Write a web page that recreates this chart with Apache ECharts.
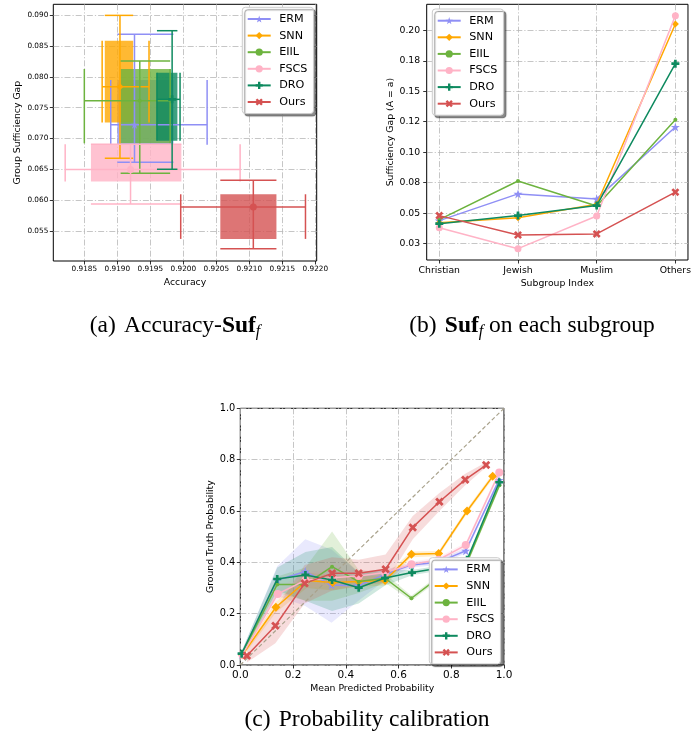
<!DOCTYPE html>
<html><head><meta charset="utf-8">
<script src="https://cdn.jsdelivr.net/npm/echarts@6/dist/echarts.min.js"></script>
<style>html,body{margin:0;padding:0;background:#fff}#c{width:694px;height:746px}</style>
</head><body><div id="c"></div>
<script>
// ---------- shared ----------
const methods = ['ERM', 'SNN', 'EIIL', 'FSCS', 'DRO', 'Ours'];
const colors = ['#8f8ff5', '#ffa800', '#6db33f', '#ffb3c6', '#0e8a5f', '#d55252'];

// ---------- (a) Accuracy vs group sufficiency gap ----------
const accMean  = [0.91926, 0.91904, 0.91934, 0.91920, 0.91983, 0.92106];
const gapMean  = [0.07225, 0.07842, 0.07615, 0.06495, 0.07636, 0.05889];
const boxAccLo = [0.91900, 0.91881, 0.91905, 0.91860, 0.91960, 0.92056];
const boxAccHi = [0.91985, 0.91924, 0.91980, 0.91997, 0.91991, 0.92141];
const boxGapLo = [0.06900, 0.07258, 0.06922, 0.06300, 0.06965, 0.05369];
const boxGapHi = [0.07950, 0.08589, 0.08129, 0.06906, 0.08069, 0.06094];
const errAccLo = [0.91890, 0.91877, 0.91850, 0.91821, 0.91960, 0.91996];
const errAccHi = [0.92036, 0.91948, 0.91980, 0.92086, 0.91995, 0.92185];
const errGapLo = [0.06614, 0.06679, 0.06435, 0.05937, 0.06500, 0.05207];
const errGapHi = [0.08692, 0.09000, 0.08259, 0.06906, 0.08751, 0.06321];
const accTicks = [0.9185, 0.9190, 0.9195, 0.9200, 0.9205, 0.9210, 0.9215, 0.9220];
const gapTicks = [0.055, 0.060, 0.065, 0.070, 0.075, 0.080, 0.085, 0.090];

// ---------- (b) Suf on each subgroup ----------
const subgroups = ['Christian', 'Jewish', 'Muslim', 'Others'];
const sufERM  = [0.0439, 0.0658, 0.0617, 0.1207];
const sufSNN  = [0.0422, 0.0463, 0.0573, 0.2052];
const sufEIIL = [0.0447, 0.0764, 0.0559, 0.1267];
const sufFSCS = [0.0381, 0.0209, 0.0477, 0.2120];
const sufDRO  = [0.0414, 0.0480, 0.0562, 0.1726];
const sufOurs = [0.0480, 0.0321, 0.0330, 0.0672];
const sufTickValues = [0.025, 0.05, 0.075, 0.10, 0.125, 0.15, 0.175, 0.20];
const sufTickLabels = ['0.03', '0.05', '0.08', '0.10', '0.12', '0.15', '0.18', '0.20'];

// ---------- (c) Probability calibration ----------
const calX_ERM  = [0.005, 0.140, 0.2465, 0.346, 0.448, 0.549, 0.649, 0.750, 0.855, 0.981];
const calY_ERM  = [0.042, 0.330, 0.364, 0.312, 0.309, 0.353, 0.390, 0.400, 0.445, 0.720];
const calLo_ERM = [0.032, 0.270, 0.230, 0.165, 0.250, 0.330, 0.380, 0.390, 0.435, 0.710];
const calHi_ERM = [0.052, 0.385, 0.490, 0.450, 0.360, 0.370, 0.400, 0.410, 0.455, 0.730];

const calX_SNN  = [0.008, 0.135, 0.252, 0.350, 0.449, 0.549, 0.649, 0.752, 0.860, 0.957];
const calY_SNN  = [0.040, 0.225, 0.329, 0.321, 0.325, 0.329, 0.431, 0.434, 0.600, 0.735];
const calLo_SNN = [0.030, 0.205, 0.300, 0.290, 0.305, 0.310, 0.420, 0.424, 0.590, 0.725];
const calHi_SNN = [0.050, 0.245, 0.360, 0.350, 0.345, 0.350, 0.442, 0.444, 0.610, 0.745];

const calX_EIIL  = [0.005, 0.140, 0.247, 0.348, 0.449, 0.549, 0.649, 0.752, 0.860, 0.983];
const calY_EIIL  = [0.040, 0.314, 0.314, 0.383, 0.325, 0.338, 0.260, 0.340, 0.400, 0.700];
const calLo_EIIL = [0.030, 0.280, 0.250, 0.250, 0.280, 0.320, 0.250, 0.330, 0.390, 0.690];
const calHi_EIIL = [0.050, 0.345, 0.380, 0.520, 0.370, 0.355, 0.270, 0.350, 0.410, 0.710];

const calX_FSCS  = [0.008, 0.142, 0.247, 0.350, 0.449, 0.549, 0.649, 0.752, 0.855, 0.982];
const calY_FSCS  = [0.040, 0.277, 0.330, 0.340, 0.347, 0.360, 0.392, 0.410, 0.467, 0.750];
const calLo_FSCS = [0.030, 0.255, 0.300, 0.310, 0.325, 0.350, 0.382, 0.400, 0.457, 0.740];
const calHi_FSCS = [0.050, 0.300, 0.360, 0.370, 0.370, 0.370, 0.402, 0.420, 0.477, 0.760];

const calX_DRO  = [0.005, 0.140, 0.247, 0.348, 0.449, 0.549, 0.651, 0.752, 0.860, 0.982];
const calY_DRO  = [0.044, 0.335, 0.351, 0.331, 0.301, 0.339, 0.360, 0.377, 0.410, 0.712];
const calLo_DRO = [0.034, 0.290, 0.250, 0.210, 0.240, 0.310, 0.350, 0.367, 0.400, 0.702];
const calHi_DRO = [0.054, 0.380, 0.440, 0.460, 0.360, 0.370, 0.370, 0.387, 0.420, 0.722];

const calX_Ours  = [0.025, 0.133, 0.244, 0.348, 0.449, 0.551, 0.654, 0.755, 0.853, 0.932];
const calY_Ours  = [0.036, 0.153, 0.318, 0.357, 0.357, 0.373, 0.536, 0.636, 0.722, 0.779];
const calLo_Ours = [0.010, 0.085, 0.240, 0.290, 0.310, 0.320, 0.490, 0.600, 0.700, 0.770];
const calHi_Ours = [0.060, 0.215, 0.390, 0.420, 0.410, 0.430, 0.580, 0.670, 0.745, 0.790];

const diagX = [0, 1];
const diagY = [0, 1];

// ---------- build ----------
const suf = [sufERM, sufSNN, sufEIIL, sufFSCS, sufDRO, sufOurs];
const calX = [calX_ERM, calX_SNN, calX_EIIL, calX_FSCS, calX_DRO, calX_Ours];
const calY = [calY_ERM, calY_SNN, calY_EIIL, calY_FSCS, calY_DRO, calY_Ours];
const calLo = [calLo_ERM, calLo_SNN, calLo_EIIL, calLo_FSCS, calLo_DRO, calLo_Ours];
const calHi = [calHi_ERM, calHi_SNN, calHi_EIIL, calHi_FSCS, calHi_DRO, calHi_Ours];

const STAR = 'path://M0,-10L2.245,-3.09L9.511,-3.09L3.633,1.18L5.878,8.09L0,3.82L-5.878,8.09L-3.633,1.18L-9.511,-3.09L-2.245,-3.09Z';
const PLUS = 'path://M-1,-3H1V-1H3V1H1V3H-1V1H-3V-1H-1Z';
const XMARK = 'path://M-1.6,-3L0,-1.4L1.6,-3L3,-1.6L1.4,0L3,1.6L1.6,3L0,1.4L-1.6,3L-3,1.6L-1.4,0L-3,-1.6Z';
const symbols = [STAR, 'diamond', 'circle', 'circle', PLUS, XMARK];
const symSizeB = [9, 7, 4, 7, 8, 8];
const symSizeC = [9, 9, 4, 8, 8, 8.5];

const FONT = 'DejaVu Sans';
const gridLine = { show: true, lineStyle: { color: '#b8b8b8', width: 0.8, type: [6, 2, 1.2, 2] } };
const tick = (vals) => ({ show: true, length: 3.5, lineStyle: { color: '#000', width: 0.8 }, customValues: vals });
const noLine = { show: false, onZero: false };
const nameStyle = { fontSize: 9.3, color: '#000', fontFamily: FONT };

const series = [];
// (b) lines first (legend icons are taken from these)
methods.forEach((m, i) => {
  series.push({
    type: 'line', name: m, xAxisIndex: 1, yAxisIndex: 1,
    data: subgroups.map((_, j) => [j, suf[i][j]]),
    symbol: symbols[i], symbolSize: symSizeB[i], showSymbol: true,
    lineStyle: { color: colors[i], width: 1.5 },
    itemStyle: { color: colors[i], borderWidth: 0 },
    z: 3 + i * 0.01
  });
});
// (c) bands
methods.forEach((m, i) => {
  series.push({
    type: 'custom', xAxisIndex: 2, yAxisIndex: 2, z: 1,
    data: calX[i].map((x, j) => [x, calLo[i][j], calHi[i][j]]),
    encode: { x: 0, y: [1, 2] },
    renderItem: (params, api) => {
      if (params.dataIndex !== 0) return null;
      const n = params.dataInsideLength;
      const up = [], dn = [];
      for (let j = 0; j < n; j++) {
        up.push(api.coord([api.value(0, j), api.value(2, j)]));
        dn.push(api.coord([api.value(0, j), api.value(1, j)]));
      }
      return { type: 'polygon', shape: { points: up.concat(dn.reverse()) },
               style: { fill: colors[i], opacity: 0.2 } };
    }
  });
});
// (c) diagonal
series.push({
  type: 'line', xAxisIndex: 2, yAxisIndex: 2, z: 2, symbol: 'none',
  data: diagX.map((x, j) => [x, diagY[j]]),
  lineStyle: { color: '#a9a28c', width: 1.2, type: [4, 2.5] }
});
// (c) lines
methods.forEach((m, i) => {
  series.push({
    type: 'line', name: m, xAxisIndex: 2, yAxisIndex: 2,
    data: calX[i].map((x, j) => [x, calY[i][j]]),
    symbol: symbols[i], symbolSize: symSizeC[i], showSymbol: true,
    lineStyle: { color: colors[i], width: 1.5 },
    itemStyle: { color: colors[i], borderWidth: 0 },
    z: 3 + i * 0.01
  });
});
// (a) boxes
series.push({
  type: 'custom', xAxisIndex: 0, yAxisIndex: 0, z: 2,
  data: methods.map((m, i) => [boxAccLo[i], boxAccHi[i], boxGapLo[i], boxGapHi[i], i]),
  encode: { x: [0, 1], y: [2, 3] },
  renderItem: (params, api) => {
    const i = api.value(4);
    const p0 = api.coord([api.value(0), api.value(3)]);
    const p1 = api.coord([api.value(1), api.value(2)]);
    return { type: 'rect', shape: { x: p0[0], y: p0[1], width: p1[0] - p0[0], height: p1[1] - p0[1] },
             style: { fill: colors[i], opacity: 0.8 } };
  }
});
// (a) error bars
series.push({
  type: 'custom', xAxisIndex: 0, yAxisIndex: 0, z: 3,
  data: methods.map((m, i) => [accMean[i], gapMean[i], errAccLo[i], errAccHi[i], errGapLo[i], errGapHi[i],
                                boxAccLo[i], boxAccHi[i], boxGapLo[i], boxGapHi[i], i]),
  encode: { x: [2, 3], y: [4, 5] },
  renderItem: (params, api) => {
    const v = (k) => api.value(k);
    const i = v(10);
    const seg = (a, b) => {
      const p = api.coord(a), q = api.coord(b);
      return { type: 'line', shape: { x1: p[0], y1: p[1], x2: q[0], y2: q[1] },
               style: { stroke: colors[i], lineWidth: 1.5 } };
    };
    return { type: 'group', children: [
      seg([v(2), v(1)], [v(3), v(1)]),
      seg([v(2), v(8)], [v(2), v(9)]),
      seg([v(3), v(8)], [v(3), v(9)]),
      seg([v(0), v(4)], [v(0), v(5)]),
      seg([v(6), v(4)], [v(7), v(4)]),
      seg([v(6), v(5)], [v(7), v(5)])
    ]};
  }
});
// (a) centre markers
const symA = [STAR, 'diamond', 'circle', 'circle', PLUS, 'circle'];
const symSizeA = [8, 7, 4, 7, 8, 7];
methods.forEach((m, i) => {
  series.push({
    type: 'scatter', xAxisIndex: 0, yAxisIndex: 0, z: 4,
    data: [[accMean[i], gapMean[i]]],
    symbol: symA[i], symbolSize: symSizeA[i],
    itemStyle: { color: colors[i], opacity: 1 }
  });
});

const legendCommon = {
  data: methods, orient: 'vertical', selectedMode: false,
  itemWidth: 23, itemHeight: 9, itemGap: 4.6, padding: [5.7, 6, 5.5, 4.4],
  backgroundColor: '#fff', borderColor: '#cccccc', borderWidth: 1, borderRadius: 3,
  shadowColor: 'rgba(0,0,0,0.45)', shadowOffsetX: 2.5, shadowOffsetY: 2.5, shadowBlur: 1,
  textStyle: { fontSize: 11.2, lineHeight: 12, color: '#000', fontFamily: FONT, padding: [0, 0, 0, 3.5] }
};

const capFont = 'Liberation Serif';
const capRich = {
  p: { fontFamily: capFont, fontSize: 23.5, lineHeight: 28, padding: [0, 2.4, 0, 0] },
  b: { fontFamily: capFont, fontSize: 23.5, lineHeight: 28, fontWeight: 'bold' },
  s: { fontFamily: capFont, fontSize: 16, lineHeight: 16, fontStyle: 'italic', verticalAlign: 'bottom' }
};
const cap = (x, y, text) => ({
  type: 'text', x: x, y: y, silent: true,
  style: { text: text, rich: capRich, fontFamily: capFont, fontSize: 23.5, lineHeight: 28,
           fill: '#000', align: 'center', verticalAlign: 'middle' }
});

const option = {
  animation: false,
  backgroundColor: '#fff',
  textStyle: { fontFamily: FONT },
  grid: [
    { left: 53.3, top: 4.3, width: 263.4, height: 256.7, show: true, borderColor: '#000', borderWidth: 1, backgroundColor: 'transparent' },
    { left: 426.7, top: 4.3, width: 264.3, height: 255.7, show: true, borderColor: '#000', borderWidth: 1, backgroundColor: 'transparent' },
    { left: 240.3, top: 408.3, width: 263.7, height: 256.7, show: true, borderColor: '#000', borderWidth: 1, backgroundColor: 'transparent' }
  ],
  xAxis: [
    { type: 'value', gridIndex: 0, min: 0.91803, max: 0.92202, axisLine: noLine,
      axisTick: tick(accTicks), splitLine: gridLine,
      axisLabel: { customValues: accTicks, formatter: v => v.toFixed(4), fontSize: 7.3, margin: 5, color: '#000', fontFamily: FONT },
      name: 'Accuracy', nameLocation: 'middle', nameGap: 17, nameTextStyle: nameStyle },
    { type: 'value', gridIndex: 1, min: -0.16, max: 3.16, axisLine: noLine,
      axisTick: tick([0, 1, 2, 3]), splitLine: gridLine,
      axisLabel: { customValues: [0, 1, 2, 3], formatter: v => subgroups[Math.round(v)], fontSize: 9.3, margin: 6, color: '#000', fontFamily: FONT },
      name: 'Subgroup Index', nameLocation: 'middle', nameGap: 19, nameTextStyle: nameStyle },
    { type: 'value', gridIndex: 2, min: 0, max: 1, interval: 0.2, axisLine: noLine,
      axisTick: { show: true, length: 3.5, lineStyle: { color: '#000', width: 0.8 } }, splitLine: gridLine,
      axisLabel: { formatter: v => v.toFixed(1), fontSize: 10.5, margin: 5, color: '#000', fontFamily: FONT, showMinLabel: true, showMaxLabel: true },
      name: 'Mean Predicted Probability', nameLocation: 'middle', nameGap: 19, nameTextStyle: nameStyle }
  ],
  yAxis: [
    { type: 'value', gridIndex: 0, min: 0.0501, max: 0.0918, axisLine: noLine,
      axisTick: tick(gapTicks), splitLine: gridLine,
      axisLabel: { customValues: gapTicks, formatter: v => v.toFixed(3), fontSize: 7.3, margin: 5, color: '#000', fontFamily: FONT },
      name: 'Group Sufficiency Gap', nameLocation: 'middle', nameGap: 31.5, nameTextStyle: nameStyle },
    { type: 'value', gridIndex: 1, min: 0.0116, max: 0.2213, axisLine: noLine,
      axisTick: tick(sufTickValues), splitLine: gridLine,
      axisLabel: { customValues: sufTickValues,
        formatter: v => { let k = 0, best = 1; sufTickValues.forEach((t, j) => { if (Math.abs(t - v) < best) { best = Math.abs(t - v); k = j; } }); return sufTickLabels[k]; },
        fontSize: 9.3, margin: 6.5, color: '#000', fontFamily: FONT },
      name: 'Sufficiency Gap (A = a)', nameLocation: 'middle', nameGap: 32, nameTextStyle: nameStyle },
    { type: 'value', gridIndex: 2, min: 0, max: 1, interval: 0.2, axisLine: noLine,
      axisTick: { show: true, length: 3.5, lineStyle: { color: '#000', width: 0.8 } }, splitLine: gridLine,
      axisLabel: { formatter: v => v.toFixed(1), fontSize: 9.8, margin: 5, color: '#000', fontFamily: FONT, showMinLabel: true, showMaxLabel: true },
      name: 'Ground Truth Probability', nameLocation: 'middle', nameGap: 25.5, nameTextStyle: nameStyle }
  ],
  legend: [
    Object.assign({}, legendCommon, { left: 242.3, top: 7.3 }),
    Object.assign({}, legendCommon, { left: 432.3, top: 9 }),
    Object.assign({}, legendCommon, { left: 429.3, top: 557.7 })
  ],
  series: series,
  graphic: [
    cap(175, 326, '{p|(a)} Accuracy-{b|Suf}{s|f}'),
    cap(532, 326, '{p|(b)} {b|Suf}{s|f} on each subgroup'),
    cap(367, 720, '{p|(c)} Probability calibration')
  ]
};

const chart = echarts.init(document.getElementById('c'), null, { renderer: 'canvas' });
chart.setOption(option);
</script>
</body></html>
